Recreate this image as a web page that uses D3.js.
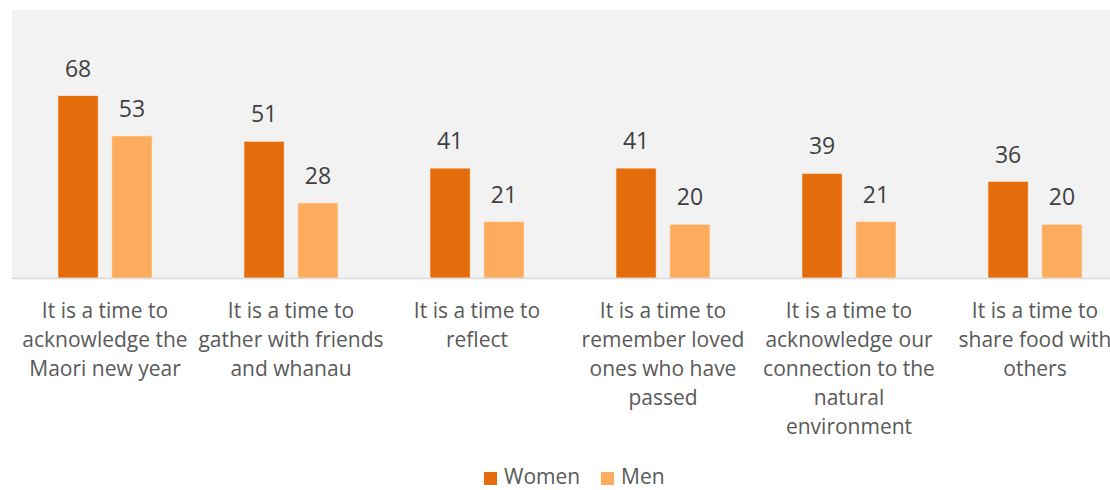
<!DOCTYPE html>
<html>
<head>
<meta charset="utf-8">
<script src="https://cdn.jsdelivr.net/npm/d3@7"></script>
<style>
  html, body { margin: 0; padding: 0; background: #ffffff; }
  svg { display: block; font-family: "Open Sans", "Noto Sans", sans-serif; }
</style>
</head>
<body>
<svg id="chart" width="1110" height="490"></svg>
<script>
// Reasons for celebrating Matariki, by gender (%)
const categories = [
  "It is a time to acknowledge the Maori new year",
  "It is a time to gather with friends and whanau",
  "It is a time to reflect",
  "It is a time to remember loved ones who have passed",
  "It is a time to acknowledge our connection to the natural environment",
  "It is a time to share food with others"
];
const categoryLines = [
  ["It is a time to", "acknowledge the", "Maori new year"],
  ["It is a time to", "gather with friends", "and whanau"],
  ["It is a time to", "reflect"],
  ["It is a time to", "remember loved", "ones who have", "passed"],
  ["It is a time to", "acknowledge our", "connection to the", "natural", "environment"],
  ["It is a time to", "share food with", "others"]
];
const seriesNames = ["Women", "Men"];
const women = [68, 51, 41, 41, 39, 36];
const men = [53, 28, 21, 20, 21, 20];
const colors = ["#e46c0a", "#fdac5e"];

const svg = d3.select("#chart");
const plot = { left: 12, right: 1128, top: 10, bottom: 278 };

// plot background
svg.append("rect")
  .attr("x", plot.left).attr("y", plot.top)
  .attr("width", plot.right - plot.left).attr("height", plot.bottom - plot.top)
  .attr("fill", "#f2f2f2");

const x0 = d3.scaleBand().domain(d3.range(categories.length))
  .range([plot.left, plot.right]).paddingInner(0).paddingOuter(0);
const y = d3.scaleLinear().domain([0, 100]).range([plot.bottom, plot.top]);

const barW = 41, barGap = 12;
const groupW = barW * 2 + barGap;
const x1 = d3.scaleBand().domain(seriesNames)
  .range([0, groupW]).paddingInner(barGap / (groupW / 2)).paddingOuter(0);

const rows = categories.map((c, i) => ({ i, values: [women[i], men[i]] }));

const groups = svg.append("g").selectAll("g").data(rows).join("g")
  .attr("transform", d => `translate(${x0(d.i) + (x0.bandwidth() - groupW) / 2},0)`);

groups.selectAll("rect").data(d => d.values.map((v, k) => ({ k, v })))
  .join("rect")
  .attr("x", d => x1(seriesNames[d.k]))
  .attr("width", x1.bandwidth())
  .attr("y", d => y(d.v))
  .attr("height", d => y(0) - y(d.v))
  .attr("fill", d => colors[d.k])
  .attr("stroke", "#fbe6d2").attr("stroke-width", 0.6);

groups.selectAll("text.val").data(d => d.values.map((v, k) => ({ k, v })))
  .join("text").attr("class", "val")
  .attr("x", d => x1(seriesNames[d.k]) + x1.bandwidth() / 2)
  .attr("y", d => y(d.v) - 19)
  .attr("text-anchor", "middle")
  .attr("font-size", 23)
  .attr("fill", "#404040")
  .text(d => d.v);

// baseline axis
const xAxis = d3.axisBottom(x0).tickSize(0).tickFormat(() => "");
const axisG = svg.append("g").attr("transform", `translate(0,${plot.bottom})`).call(xAxis);
axisG.select(".domain").attr("stroke", "#d9d9d9").attr("stroke-width", 1.5);

// category labels
const labels = svg.append("g").selectAll("text").data(rows).join("text")
  .attr("text-anchor", "middle")
  .attr("font-size", 21)
  .attr("fill", "#595959")
  .attr("x", d => x0(d.i) + x0.bandwidth() / 2)
  .attr("y", 318);
labels.selectAll("tspan").data(d => categoryLines[d.i]).join("tspan")
  .attr("x", function () { return d3.select(this.parentNode).attr("x"); })
  .attr("dy", (d, j) => j === 0 ? 0 : 29)
  .text(d => d);

// legend
const legendX = [484, 601];
const legend = svg.append("g").selectAll("g").data(seriesNames).join("g")
  .attr("transform", (d, k) => `translate(${legendX[k]},472)`);
legend.append("rect").attr("width", 13).attr("height", 13)
  .attr("fill", (d, k) => colors[k]);
legend.append("text").attr("x", 20).attr("y", 12)
  .attr("font-size", 21).attr("fill", "#595959").text(d => d);
</script>
</body>
</html>
